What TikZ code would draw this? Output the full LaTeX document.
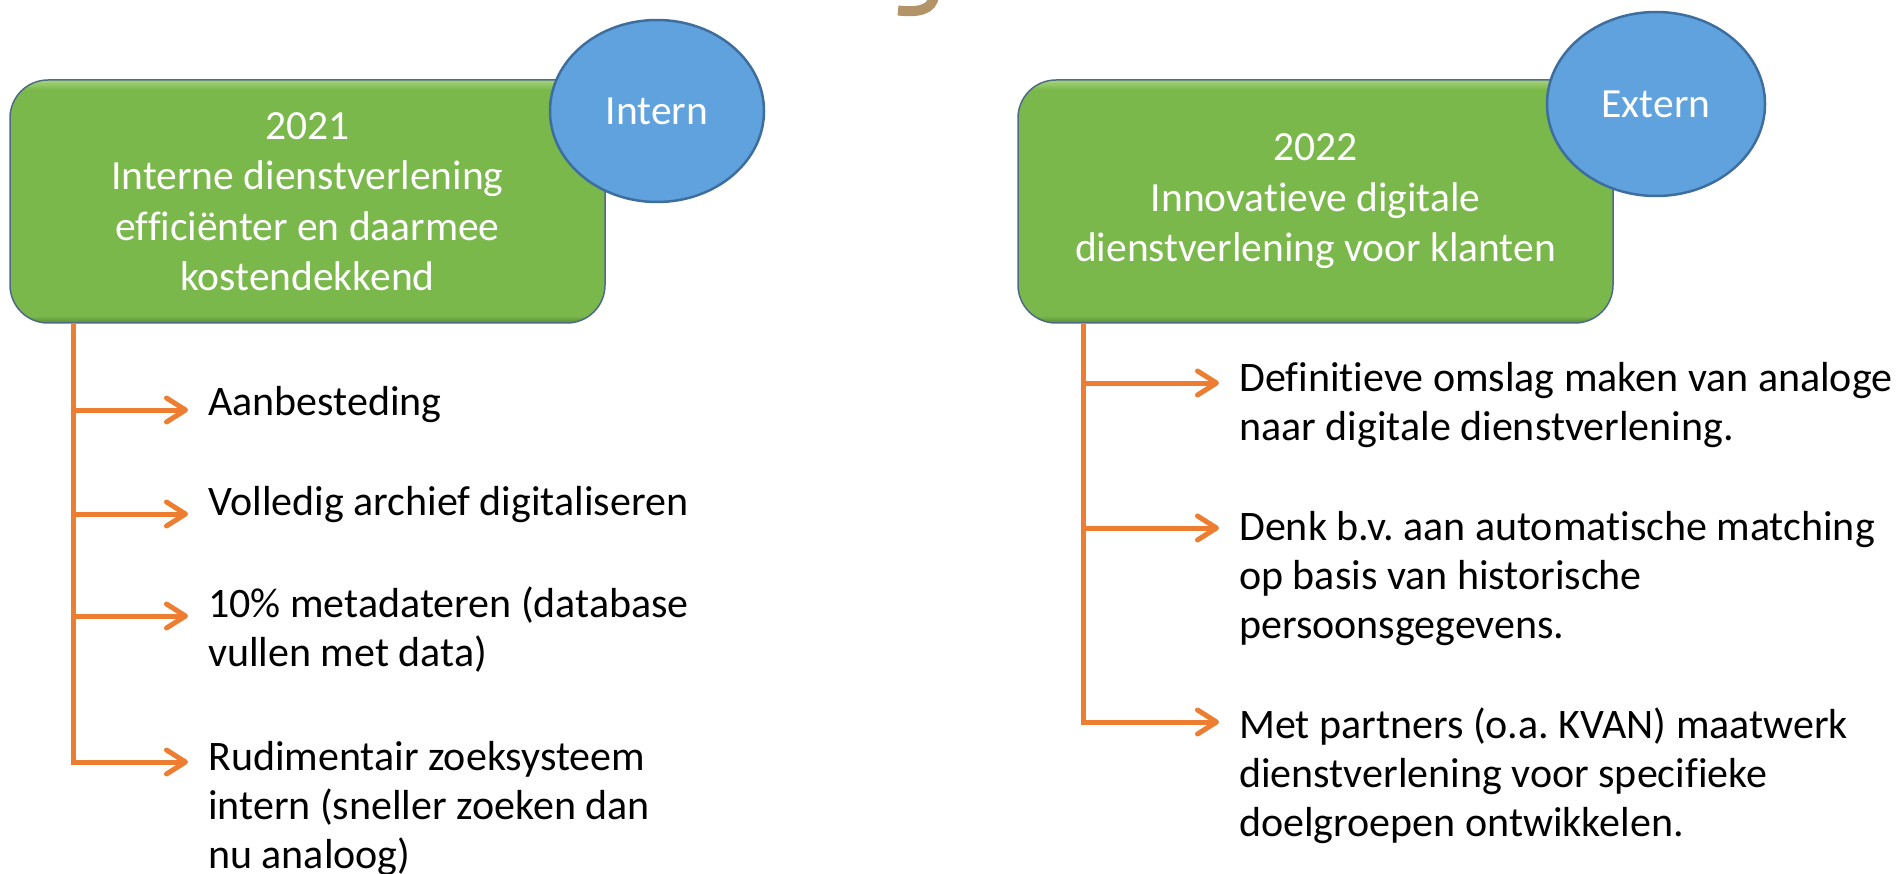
\documentclass[tikz,border=0pt]{standalone}
\usepackage{fontspec}
\setmainfont{Carlito}[Ligatures=NoCommon]
\frenchspacing
\usetikzlibrary{arrows.meta,shapes.geometric}
\definecolor{gmain}{HTML}{7AB84C}
\definecolor{glight}{HTML}{A6D47C}
\definecolor{gdark}{HTML}{5A8A36}
\definecolor{boxline}{HTML}{4E6B86}
\definecolor{bmain}{HTML}{5FA2DD}
\definecolor{bline}{HTML}{3E6E9E}
\definecolor{orng}{HTML}{ED7D31}
\definecolor{titletan}{HTML}{B39468}
\pgfdeclareverticalshading{greenbevel}{100bp}{color(0bp)=(gdark); color(25bp)=(gdark); color(26.5bp)=(gmain); color(73bp)=(gmain); color(75bp)=(glight); color(100bp)=(glight)}
\tikzset{
  greenbox/.style={draw=boxline, line width=1.5pt, shading=greenbevel, rounded corners=38pt,
    minimum width=595pt, minimum height=243pt, inner sep=0pt, align=center, text=white,
    font=\fontsize{41.5}{50.5}\selectfont},
  bluecircle/.style={ellipse, draw=bline, line width=2.5pt, fill=bmain, inner sep=0pt,
    text=white, font=\fontsize{41.5}{48}\selectfont},
  item/.style={anchor=north west, inner sep=0pt, align=left, font=\fontsize{42}{49}\selectfont\frenchspacing},
  conn/.style={draw=orng, line width=5pt},
  arr/.style={conn, -{Straight Barb[length=19pt,width=24pt,round]}, shorten >=20pt},
}
\newcommand{\fl}{\rule{0pt}{34pt}}
\begin{document}
\begin{tikzpicture}[x=1pt,y=-1pt]
\useasboundingbox (0,0) rectangle (1897,874);
% fragment of the title glyph
\draw[titletan, line width=10pt] (898,10.5) .. controls (916,12.5) and (933,11) .. (934,-5);

% left group
\node[greenbox] (box1) at (307.5,201.5) {2021\\Interne dienstverlening\\efficiënter en daarmee\\kostendekkend};
\node[bluecircle, minimum width=214pt, minimum height=182pt] (c1) at (657,111) {\raisebox{-3pt}{Intern}};

\node[item] (i1) at (208,381) {\fl Aanbesteding};
\node[item] (i2) at (208,481) {\fl Volledig archief digitaliseren};
\node[item] (i3) at (208,583) {\fl 10\% metadateren (database\\vullen met data)};
\node[item] (i4) at (208,736) {\fl Rudimentair zoeksysteem\\intern (sneller zoeken dan\\nu analoog)};

\coordinate (b1) at (73,410);
\coordinate (b2) at (73,514);
\coordinate (b3) at (73,616);
\coordinate (b4) at (73,762);
\draw[arr] (box1.south -| b4) -- (b4) -- (b4 -| i4.west);
\draw[arr] (b1) -- (b1 -| i1.west);
\draw[arr] (b2) -- (b2 -| i2.west);
\draw[arr] (b3) -- (b3 -| i3.west);

% right group
\node[greenbox] (box2) at (1315.5,201.5) {2022\\Innovatieve digitale\\dienstverlening voor klanten};
\node[bluecircle, minimum width=218pt, minimum height=184pt] (c2) at (1656,104) {\raisebox{-3pt}{Extern}};

\node[item] (j1) at (1239,357.5) {\fl Definitieve omslag maken van analoge\\naar digitale dienstverlening.};
\node[item] (j2) at (1239,506.5) {\fl Denk b.v. aan automatische matching\\op basis van historische\\persoonsgegevens.};
\node[item] (j3) at (1239,704.5) {\fl Met partners (o.a. KVAN) maatwerk\\dienstverlening voor specifieke\\doelgroepen ontwikkelen.};

\coordinate (d1) at (1083,383);
\coordinate (d2) at (1083,528);
\coordinate (d3) at (1083,722);
\draw[arr] (box2.south -| d3) -- (d3) -- (d3 -| j3.west);
\draw[arr] (d1) -- (d1 -| j1.west);
\draw[arr] (d2) -- (d2 -| j2.west);
\end{tikzpicture}
\end{document}
